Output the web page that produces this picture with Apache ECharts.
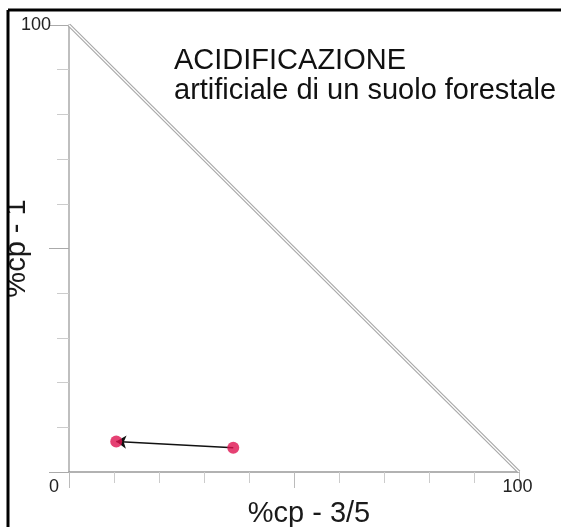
<!DOCTYPE html>
<html>
<head>
<meta charset="utf-8">
<script src="https://cdn.jsdelivr.net/npm/echarts@6/dist/echarts.min.js"></script>
<style>
  html, body { margin: 0; padding: 0; background: #fff; }
  #chart { width: 561px; height: 527px; }
</style>
</head>
<body>
<div id="chart"></div>
<script>
// Soil samples: before (start) and after (end) artificial acidification
const sampleX = [36.5, 10.5];   // %cp - 3/5
const sampleY = [5.4, 6.8];     // %cp - 1
// Boundary of the triangle: x + y = 100
const boundaryX = [0, 100];
const boundaryY = [100, 0];
const xTickLabels = { 0: '0', 100: '100' };
const yTickLabels = { 100: '100' };
const titleLines = ['ACIDIFICAZIONE', 'artificiale di un suolo forestale'];

const font = "'Liberation Sans', Arial, sans-serif";
const chart = echarts.init(document.getElementById('chart'));

const boundary = boundaryX.map((x, i) => [x, boundaryY[i]]);
const points = sampleX.map((x, i) => [x, sampleY[i]]);

chart.setOption({
  backgroundColor: '#fff',
  animation: false,
  grid: { left: 69, right: 42, top: 25, bottom: 55, containLabel: false, outerBoundsMode: 'none' },
  xAxis: {
    type: 'value', min: 0, max: 100, interval: 50,
    name: '%cp - 3/5', nameLocation: 'middle', nameGap: 27, nameMoveOverlap: false,
    nameTextStyle: { fontFamily: font, fontSize: 29, color: '#1a1a1a', padding: [0, 0, 0, 30] },
    axisLine: { lineStyle: { color: '#999', width: 1.5 } },
    axisTick: { show: true, length: 16, lineStyle: { color: '#bbb' } },
    minorTick: { show: true, splitNumber: 5, length: 11, lineStyle: { color: '#ccc' } },
    splitLine: { show: false },
    axisLabel: {
      margin: 6, fontFamily: font, fontSize: 18, color: '#222',
      formatter: v => xTickLabels[v] !== undefined ? '{s' + v + '|' + xTickLabels[v] + '}' : '',
      rich: {
        s0: { fontFamily: font, fontSize: 18, color: '#222', padding: [0, 30, 0, 0] },
        s100: { fontFamily: font, fontSize: 18, color: '#222', padding: [0, 3, 0, 0] }
      }
    }
  },
  yAxis: {
    type: 'value', min: 0, max: 100, interval: 50,
    name: '%cp - 1', nameLocation: 'middle', nameGap: 38, nameRotate: 90, nameMoveOverlap: false,
    nameTextStyle: { fontFamily: font, fontSize: 29, color: '#1a1a1a' },
    axisLine: { show: true, lineStyle: { color: '#aaa', width: 1.5 } },
    axisTick: { show: true, length: 20, lineStyle: { color: '#aaa' } },
    minorTick: { show: true, splitNumber: 5, length: 12, lineStyle: { color: '#ccc' } },
    splitLine: { show: false },
    axisLabel: {
      margin: 18, fontFamily: font, fontSize: 18, color: '#222',
      formatter: v => yTickLabels[v] || ''
    }
  },
  graphic: [
    { type: 'text', left: 174, top: 46, z: 10, style: { text: titleLines[0], font: '29px ' + font, fill: '#111' } },
    { type: 'text', left: 174, top: 76, z: 10, style: { text: titleLines[1], font: '29px ' + font, fill: '#111' } },
    { type: 'line', z: 20, shape: { x1: 8, y1: 10, x2: 561, y2: 10 }, style: { stroke: '#000', lineWidth: 3 } },
    { type: 'line', z: 20, shape: { x1: 8, y1: 10, x2: 8, y2: 527 }, style: { stroke: '#000', lineWidth: 3 } },
    { type: 'rect', z: 19, shape: { x: 0, y: 0, width: 7, height: 527 }, style: { fill: '#fff' } }
  ],
  series: [
    {
      type: 'line', data: boundary, symbol: 'none', z: 1,
      lineStyle: { color: '#a8a8a8', width: 3.5 }
    },
    {
      type: 'line', data: boundary, symbol: 'none', z: 2,
      lineStyle: { color: '#fff', width: 1.2 }
    },
    {
      type: 'lines', coordinateSystem: 'cartesian2d', z: 3,
      symbol: ['none', 'arrow'], symbolSize: 10,
      lineStyle: { color: '#111', width: 1.5, opacity: 1 },
      data: [{ coords: [points[0], points[1]] }]
    },
    {
      type: 'scatter', data: points, z: 5, symbolSize: 12,
      itemStyle: { color: '#de1150' }
    }
  ]
});
</script>
</body>
</html>
